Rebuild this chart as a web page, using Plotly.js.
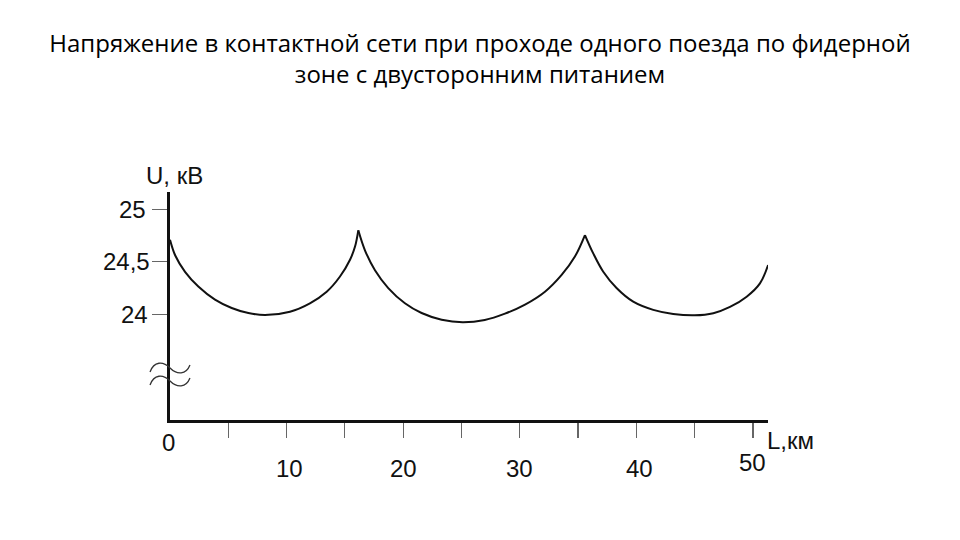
<!DOCTYPE html>
<html>
<head>
<meta charset="utf-8">
<script src="https://cdn.plot.ly/plotly-3.0.1.min.js"></script>
<style>html,body{margin:0;padding:0;background:#fff;}#chart{width:960px;height:540px;}</style>
</head>
<body>
<div id="chart"></div>
<script>
// Arc 1: from L=0 to first cusp
const arc1L = [0, 0.45, 1.29, 2.43, 3.86, 5.29, 6.72, 8.15, 10.29, 12.0, 13.44, 14.58, 15.44, 15.87, 16.15];
const arc1U = [24.71, 24.56, 24.405, 24.265, 24.14, 24.06, 24.012, 23.993, 24.025, 24.105, 24.215, 24.36, 24.52, 24.645, 24.80];
// Arc 2: between cusps
const arc2L = [16.15, 16.72, 17.58, 18.72, 20.15, 21.58, 23.3, 25.1, 27.0, 28.73, 30.45, 32.16, 33.59, 34.73, 35.59];
const arc2U = [24.80, 24.61, 24.42, 24.25, 24.105, 24.012, 23.948, 23.924, 23.946, 24.006, 24.092, 24.215, 24.375, 24.55, 24.755];
// Arc 3: from second cusp to end
const arc3L = [35.59, 36.3, 37.16, 38.3, 39.73, 41.45, 43.16, 45.0, 46.6, 48.03, 49.46, 50.6, 51.3];
const arc3U = [24.755, 24.58, 24.405, 24.25, 24.12, 24.042, 24.003, 23.99, 24.01, 24.07, 24.168, 24.295, 24.47];

const xTickVals = [5, 10, 15, 20, 25, 30, 35, 40, 45, 50];
const xLabelVals = [0, 10, 20, 30, 40, 50];
const xLabelText = ['0', '10', '20', '30', '40', '50'];
const yTickVals = [24, 24.5, 25];
const yTickText = ['24', '24,5', '25'];

const titleText = 'Напряжение в контактной сети при проходе одного поезда по фидерной<br>зоне с двусторонним питанием';
const yTitle = 'U, кВ';
const xTitle = 'L,км';

const lineStyle = {color: '#111', width: 2};
const traces = [
  {x: arc1L, y: arc1U},
  {x: arc2L, y: arc2U},
  {x: arc3L, y: arc3U}
].map(t => Object.assign(t, {type: 'scatter', mode: 'lines', line: Object.assign({shape: 'spline', smoothing: 1}, lineStyle), hoverinfo: 'skip', showlegend: false}));

const axisFont = {family: 'Liberation Sans, Arial, sans-serif', size: 24, color: '#111'};

const annotations = [];
// x tick labels (positions in reference are slightly irregular)
const xLabelShift = {0: {dx: -2, dy: 22}, 10: {dx: 3, dy: 48}, 20: {dx: 0, dy: 48}, 30: {dx: 0, dy: 48}, 40: {dx: 3, dy: 48}, 50: {dx: 0, dy: 42}};
xLabelVals.forEach((v, i) => {
  const s = xLabelShift[v];
  annotations.push({x: v, xref: 'x', y: 0, yref: 'paper', text: xLabelText[i], showarrow: false,
    xanchor: 'center', yanchor: 'middle', xshift: s.dx, yshift: -s.dy, font: axisFont});
});
const yLabelShift = {'24': -20, '24,5': -18, '25': -22};
yTickVals.forEach((v, i) => {
  annotations.push({x: 0, xref: 'paper', y: v, yref: 'y', text: yTickText[i], showarrow: false,
    xanchor: 'right', yanchor: 'middle', xshift: yLabelShift[yTickText[i]], font: axisFont});
});
const axTitleFont = {family: 'Liberation Sans, Arial, sans-serif', size: 24, color: '#111'};
annotations.push({x: 0, xref: 'paper', y: 1, yref: 'paper', text: yTitle, showarrow: false,
  xanchor: 'center', yanchor: 'middle', xshift: 4, yshift: 17, font: axTitleFont});
annotations.push({x: 1, xref: 'paper', y: 0, yref: 'paper', text: xTitle, showarrow: false,
  xanchor: 'left', yanchor: 'middle', xshift: -3, yshift: -20, font: axTitleFont});

// axis break symbol (two tildes across the y axis)
const wave = (dy) => {
  const X = px => ((px - 170) / 598).toFixed(4);
  const Y = py => ((420 - (py + dy)) / 228).toFixed(4);
  return `M ${X(150)},${Y(372)} C ${X(154)},${Y(361)} ${X(163)},${Y(361)} ${X(170)},${Y(368)} C ${X(177)},${Y(375)} ${X(186)},${Y(375)} ${X(190)},${Y(365)}`;
};
const shapes = [0, 13].map(dy => ({type: 'path', xref: 'paper', yref: 'paper', path: wave(dy), line: {color: '#333', width: 1.3}}));

const layout = {
  width: 960, height: 540,
  margin: {l: 170, r: 192, t: 192, b: 120},
  paper_bgcolor: '#fff', plot_bgcolor: '#fff',
  title: {text: titleText, x: 0.5, xanchor: 'center', xref: 'container', y: 1 - 52 / 540, yref: 'container', yanchor: 'middle',
    font: {family: 'Open Sans, sans-serif', size: 24, color: '#000'}},
  xaxis: {range: [0, 51.29], showline: true, linewidth: 3, linecolor: '#111', ticks: 'outside', tickvals: xTickVals,
    ticklen: 15, tickwidth: 1.2, tickcolor: '#666', showticklabels: false, showgrid: false, zeroline: false, fixedrange: true},
  yaxis: {range: [22.993, 25.165], showline: true, linewidth: 3, linecolor: '#111', ticks: 'outside', tickvals: yTickVals,
    ticklen: 15, tickwidth: 1.2, tickcolor: '#666', showticklabels: false, showgrid: false, zeroline: false, fixedrange: true},
  annotations: annotations,
  shapes: shapes,
  showlegend: false
};
Plotly.newPlot('chart', traces, layout, {displayModeBar: false, staticPlot: true});
</script>
</body>
</html>
